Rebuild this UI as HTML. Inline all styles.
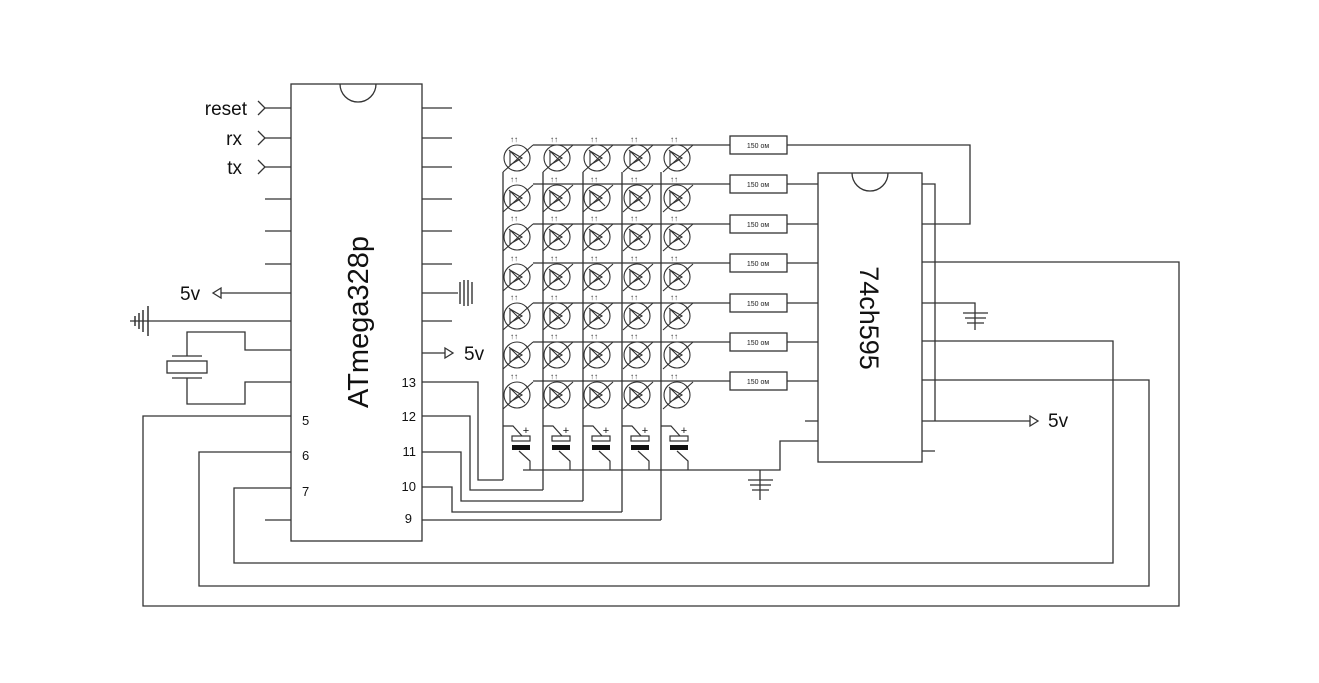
<!DOCTYPE html>
<html><head><meta charset="utf-8"><style>
html,body{margin:0;padding:0;background:#fff;}
svg{display:block;font-family:"Liberation Sans","DejaVu Sans",sans-serif;}
</style></head><body>
<svg width="1319" height="683" viewBox="0 0 1319 683" xmlns="http://www.w3.org/2000/svg">
<defs>
<g id="led" fill="none" stroke="#333" stroke-width="1.1">
<circle cx="0" cy="0" r="13" fill="#fff"/>
<path d="M-14 14L16 -13M-8 -8L8 8M-7 -7V7L5 0Z"/>
</g>
</defs>
<g fill="none" stroke="#333" stroke-width="1.3">
<!-- ATmega -->
<rect x="291" y="84" width="131" height="457" fill="#fff"/>
<path d="M340 84 A18 18 0 0 0 376 84"/>
<path d="M265 108H291M265 138H291M265 167H291M265 199H291M265 231H291M265 264H291M221 293H291M130 321H291M265 520H291"/>
<path d="M258 101L265 108L258 115M258 131L265 138L258 145M258 160L265 167L258 174"/>
<path d="M221 288L213 293L221 298Z"/>
<path d="M135 316V326M139 313V329M143 310V332M148 306V336" stroke-width="1.5"/>
<rect x="167" y="361" width="40" height="12"/>
<path d="M172 356H202M172 378H202M187 356V332H245V350H291M187 378V404H245V382H291"/>
<path d="M291 416H143V606H1179V262H922"/>
<path d="M291 452H199V586H1149V380H922"/>
<path d="M291 488H234V563H1113V341H922"/>
<path d="M422 108H452M422 138H452M422 167H452M422 199H452M422 231H452M422 264H452M422 293H458M422 321H452M422 353H445"/>
<path d="M460 282V304M464 280V306M468 280V306M472 282V304" stroke-width="1.4"/>
<path d="M445 348L453 353L445 358Z"/>
<path d="M422 382H478V480H503"/>
<path d="M422 416H470V490H543"/>
<path d="M422 452H461V501H583"/>
<path d="M422 487H452V512H622"/>
<path d="M422 520H661"/>
<path d="M503 172V480M543 172V490M583 172V501M622 172V512M661 172V520"/>
<path d="M533 145H730M533 184H730M533 224H730M533 263H730M533 303H730M533 342H730M533 381H730"/>
<g fill="#fff">
<rect x="730" y="136" width="57" height="18"/><rect x="730" y="175" width="57" height="18"/>
<rect x="730" y="215" width="57" height="18"/><rect x="730" y="254" width="57" height="18"/>
<rect x="730" y="294" width="57" height="18"/><rect x="730" y="333" width="57" height="18"/>
<rect x="730" y="372" width="57" height="18"/>
</g>
<path d="M787 145H970V224H922M787 184H818M787 224H818M787 263H818M787 303H818M787 342H818M787 381H818"/>
<rect x="818" y="173" width="104" height="289" fill="#fff"/>
<path d="M852 173 A18 18 0 0 0 888 173"/>
<path d="M805 421H818M818 441H780V470H523"/>
<path d="M922 184H935V421M922 451H935M922 303H975V318M922 421H1030"/>
<path d="M1030 416L1038 421L1030 426Z"/>
<path d="M963 313H988M965 318H986M967 323H984M975 318V330"/>
<path d="M760 470V500M748 480H773M750 485H771M752 490H769"/>
</g>
<!-- LEDs -->
<g>
<use href="#led" x="517" y="158"/><use href="#led" x="517" y="198"/><use href="#led" x="517" y="237"/><use href="#led" x="517" y="277"/><use href="#led" x="517" y="316"/><use href="#led" x="517" y="355"/><use href="#led" x="517" y="395"/>
<use href="#led" x="557" y="158"/><use href="#led" x="557" y="198"/><use href="#led" x="557" y="237"/><use href="#led" x="557" y="277"/><use href="#led" x="557" y="316"/><use href="#led" x="557" y="355"/><use href="#led" x="557" y="395"/>
<use href="#led" x="597" y="158"/><use href="#led" x="597" y="198"/><use href="#led" x="597" y="237"/><use href="#led" x="597" y="277"/><use href="#led" x="597" y="316"/><use href="#led" x="597" y="355"/><use href="#led" x="597" y="395"/>
<use href="#led" x="637" y="158"/><use href="#led" x="637" y="198"/><use href="#led" x="637" y="237"/><use href="#led" x="637" y="277"/><use href="#led" x="637" y="316"/><use href="#led" x="637" y="355"/><use href="#led" x="637" y="395"/>
<use href="#led" x="677" y="158"/><use href="#led" x="677" y="198"/><use href="#led" x="677" y="237"/><use href="#led" x="677" y="277"/><use href="#led" x="677" y="316"/><use href="#led" x="677" y="355"/><use href="#led" x="677" y="395"/>
</g>
<g font-size="8" fill="#333" text-anchor="middle">
<text x="514" y="142">↑↑</text><text x="514" y="182">↑↑</text><text x="514" y="221">↑↑</text><text x="514" y="261">↑↑</text><text x="514" y="300">↑↑</text><text x="514" y="339">↑↑</text><text x="514" y="379">↑↑</text>
<text x="554" y="142">↑↑</text><text x="554" y="182">↑↑</text><text x="554" y="221">↑↑</text><text x="554" y="261">↑↑</text><text x="554" y="300">↑↑</text><text x="554" y="339">↑↑</text><text x="554" y="379">↑↑</text>
<text x="594" y="142">↑↑</text><text x="594" y="182">↑↑</text><text x="594" y="221">↑↑</text><text x="594" y="261">↑↑</text><text x="594" y="300">↑↑</text><text x="594" y="339">↑↑</text><text x="594" y="379">↑↑</text>
<text x="634" y="142">↑↑</text><text x="634" y="182">↑↑</text><text x="634" y="221">↑↑</text><text x="634" y="261">↑↑</text><text x="634" y="300">↑↑</text><text x="634" y="339">↑↑</text><text x="634" y="379">↑↑</text>
<text x="674" y="142">↑↑</text><text x="674" y="182">↑↑</text><text x="674" y="221">↑↑</text><text x="674" y="261">↑↑</text><text x="674" y="300">↑↑</text><text x="674" y="339">↑↑</text><text x="674" y="379">↑↑</text>
</g>
<!-- capacitors -->
<g stroke="#333" stroke-width="1.2" fill="none">
<path d="M503 426H513L522 436M543 426H553L562 436M583 426H593L602 436M622 426H632L641 436M661 426H671L680 436"/>
<path d="M519 451L530 461V470M559 451L570 461V470M599 451L610 461V470M638 451L649 461V470M677 451L688 461V470"/>
<rect x="512" y="436" width="18" height="5" fill="#fff"/><rect x="552" y="436" width="18" height="5" fill="#fff"/>
<rect x="592" y="436" width="18" height="5" fill="#fff"/><rect x="631" y="436" width="18" height="5" fill="#fff"/>
<rect x="670" y="436" width="18" height="5" fill="#fff"/>
</g>
<g fill="#111">
<rect x="512" y="445" width="18" height="5"/><rect x="552" y="445" width="18" height="5"/>
<rect x="592" y="445" width="18" height="5"/><rect x="631" y="445" width="18" height="5"/>
<rect x="670" y="445" width="18" height="5"/>
</g>
<g font-size="11" fill="#111" text-anchor="middle">
<text x="526" y="434">+</text><text x="566" y="434">+</text><text x="606" y="434">+</text><text x="645" y="434">+</text><text x="684" y="434">+</text>
</g>
<g font-size="7" fill="#222" text-anchor="middle">
<text x="758" y="148">150 ом</text><text x="758" y="187">150 ом</text><text x="758" y="227">150 ом</text>
<text x="758" y="266">150 ом</text><text x="758" y="306">150 ом</text><text x="758" y="345">150 ом</text>
<text x="758" y="384">150 ом</text>
</g>
<g fill="#111" font-size="19">
<text x="247" y="115" text-anchor="end">reset</text>
<text x="242" y="145" text-anchor="end">rx</text>
<text x="242" y="174" text-anchor="end">tx</text>
<text x="180" y="300">5v</text>
<text x="464" y="360">5v</text>
<text x="1048" y="427">5v</text>
</g>
<g fill="#111" font-size="13">
<text x="302" y="425">5</text><text x="302" y="460">6</text><text x="302" y="496">7</text>
<text x="416" y="387" text-anchor="end">13</text><text x="416" y="421" text-anchor="end">12</text>
<text x="416" y="456" text-anchor="end">11</text><text x="416" y="491" text-anchor="end">10</text>
<text x="412" y="523" text-anchor="end">9</text>
</g>
<text x="0" y="0" font-size="29" fill="#111" text-anchor="middle" transform="translate(368,322) rotate(-90)">ATmega328p</text>
<text x="0" y="0" font-size="27" fill="#111" text-anchor="middle" transform="translate(860,318) rotate(90)">74ch595</text>
</svg>
</body></html>
